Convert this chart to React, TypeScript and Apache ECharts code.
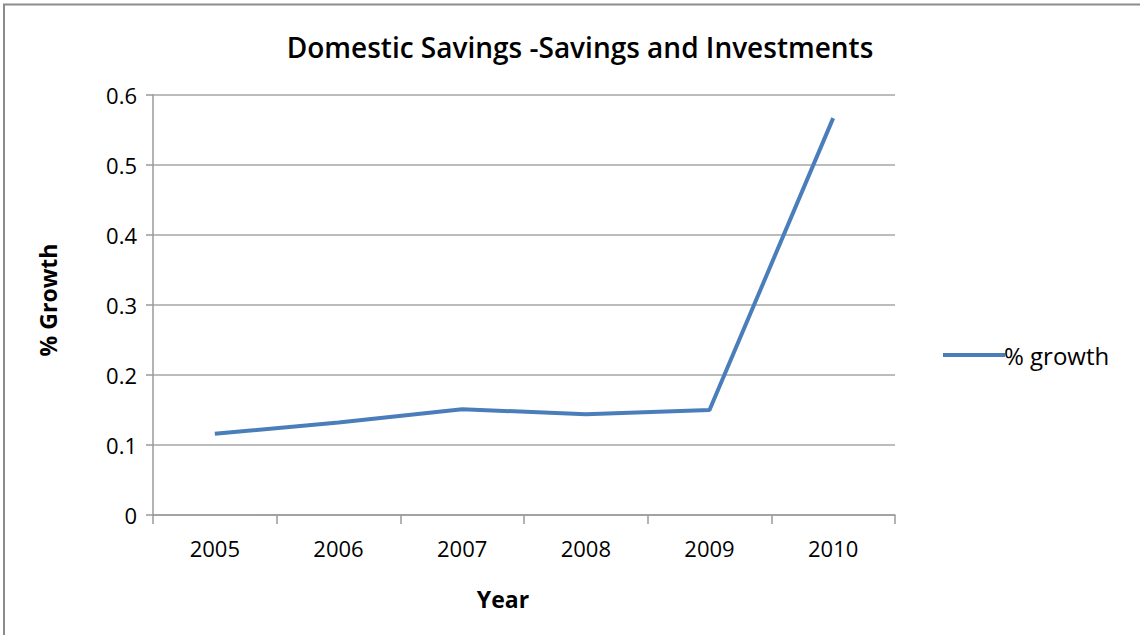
import React, { useEffect, useRef } from "react";
import * as echarts from "echarts";

const years = ["2005", "2006", "2007", "2008", "2009", "2010"];
const growth = [0.116, 0.132, 0.151, 0.144, 0.15, 0.567];
const yTicks = { min: 0, max: 0.6, interval: 0.1 };

export default function App() {
  const ref = useRef<HTMLDivElement>(null);
  useEffect(() => {
    const chart = echarts.init(ref.current!, null, { renderer: "svg" });
    chart.setOption({
      animation: false,
      backgroundColor: "#ffffff",
      textStyle: { fontFamily: "Open Sans" },
      title: {
        text: "Domestic Savings -Savings and Investments",
        left: 575,
        top: 28,
        textAlign: "center",
        textStyle: { fontSize: 28, fontWeight: 600, color: "#000", fontFamily: "Open Sans" },
      },
      graphic: [
        {
          type: "polyline",
          shape: { points: [[4, 640], [4, 4.5], [1145, 4.5]] },
          style: { stroke: "#8c8c8c", lineWidth: 2, fill: "none" },
          silent: true,
        },
      ],
      legend: {
        show: true,
        left: 938,
        top: 338,
        itemWidth: 62,
        itemHeight: 4,
        itemGap: 0,
        icon: "rect",
        data: [{ name: "% growth" }],
        textStyle: { fontSize: 24, color: "#000", padding: [0, 0, 0, -6] },
      },
      grid: { left: 153, right: 245, top: 95, bottom: 120 },
      xAxis: {
        type: "category",
        data: years,
        boundaryGap: true,
        name: "Year",
        nameLocation: "middle",
        nameGap: 72,
        nameTextStyle: { fontSize: 23, fontWeight: "bold", color: "#000", padding: [0, 42, 0, 0] },
        axisLine: { lineStyle: { color: "#9a9a9a", width: 1.5 } },
        axisTick: { show: true, length: 9, alignWithLabel: false, lineStyle: { color: "#9a9a9a", width: 1.5 } },
        axisLabel: { fontSize: 22, color: "#000", margin: 22 },
        splitLine: { show: false },
      },
      yAxis: {
        type: "value",
        min: yTicks.min,
        max: yTicks.max,
        interval: yTicks.interval,
        name: "% Growth",
        nameLocation: "middle",
        nameGap: 94,
        nameRotate: 90,
        nameTextStyle: { fontSize: 23, fontWeight: "bold", color: "#000", padding: [0, 0, 0, 10] },
        axisLine: { show: true, lineStyle: { color: "#9a9a9a", width: 1.5 } },
        axisTick: { show: true, length: 7, lineStyle: { color: "#9a9a9a", width: 1.5 } },
        axisLabel: { fontSize: 22, color: "#000", margin: 16, formatter: (v: number) => String(Math.round(v * 10) / 10) },
        splitLine: { lineStyle: { color: "#a6a6a6", width: 1.5 } },
      },
      series: [
        {
          name: "% growth",
          type: "line",
          data: growth,
          symbol: "none",
          lineStyle: { color: "#4a7ebb", width: 4 },
          itemStyle: { color: "#4a7ebb" },
        },
      ],
    });
    return () => chart.dispose();
  }, []);
  return <div ref={ref} style={{ position: "fixed", left: 0, top: 0, width: 1140, height: 635 }} />;
}
